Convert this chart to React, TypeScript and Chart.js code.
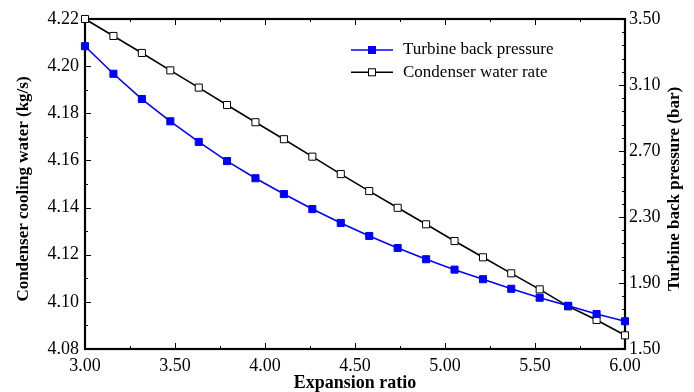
import React, { useEffect, useRef } from 'react';
import { Chart, registerables } from 'chart.js';

Chart.register(...registerables);

const SERIF = '"Liberation Serif", "Times New Roman", serif';

// Expansion ratio (x values of the data points)
const expansionRatio = [
  3.0, 3.158, 3.316, 3.474, 3.632, 3.789, 3.947, 4.105, 4.263, 4.421,
  4.579, 4.737, 4.895, 5.053, 5.211, 5.368, 5.526, 5.684, 5.842, 6.0,
];
// Turbine back pressure (bar) - right axis
const turbineBackPressure = [
  3.335, 3.168, 3.015, 2.88, 2.755, 2.639, 2.535, 2.439, 2.348, 2.264,
  2.185, 2.112, 2.044, 1.981, 1.923, 1.865, 1.811, 1.762, 1.712, 1.668,
];
// Condenser cooling water (kg/s) - left axis
const condenserWaterRate = [
  4.22, 4.2128, 4.2056, 4.1982, 4.1909, 4.1835, 4.1762, 4.169, 4.1616, 4.1542,
  4.147, 4.1399, 4.1329, 4.1258, 4.1189, 4.1121, 4.1053, 4.0981, 4.0923, 4.0858,
];

const xTicks = [3.0, 3.5, 4.0, 4.5, 5.0, 5.5, 6.0];
const leftTicks = [4.08, 4.1, 4.12, 4.14, 4.16, 4.18, 4.2, 4.22];
const rightTicks = [1.5, 1.9, 2.3, 2.7, 3.1, 3.5];
const xMinorStep = 0.25;
const leftMinorStep = 0.01;
const rightMinorStep = 0.08;

const xTitle = 'Expansion ratio';
const leftTitle = 'Condenser cooling water (kg/s)';
const rightTitle = 'Turbine back pressure (bar)';

const MAJOR_LEN = 6;
const MINOR_LEN = 3;

const frameAndTicks = {
  id: 'frameAndTicks',
  beforeDatasetsDraw(chart: any) {
    const { ctx, chartArea: a, scales } = chart;
    ctx.save();
    ctx.strokeStyle = '#000';
    ctx.lineWidth = 1;
    ctx.beginPath();
    const isMajor = (v: number, majors: number[]) =>
      majors.some((m) => Math.abs(m - v) < 1e-6);
    const each = (majors: number[], step: number, fn: (v: number, major: boolean) => void) => {
      const min = majors[0];
      const max = majors[majors.length - 1];
      const n = Math.round((max - min) / step);
      for (let i = 0; i <= n; i++) {
        const v = min + i * step;
        fn(v, isMajor(v, majors));
      }
    };
    each(xTicks, xMinorStep, (v, major) => {
      const px = Math.round(scales.x.getPixelForValue(v)) + 0.5;
      const len = major ? MAJOR_LEN : MINOR_LEN;
      ctx.moveTo(px, a.bottom);
      ctx.lineTo(px, a.bottom - len);
      ctx.moveTo(px, a.top);
      ctx.lineTo(px, a.top + len);
    });
    each(leftTicks, leftMinorStep, (v, major) => {
      const py = Math.round(scales.y.getPixelForValue(v)) + 0.5;
      const len = major ? MAJOR_LEN : MINOR_LEN;
      ctx.moveTo(a.left, py);
      ctx.lineTo(a.left + len, py);
    });
    each(rightTicks, rightMinorStep, (v, major) => {
      const py = Math.round(scales.y1.getPixelForValue(v)) + 0.5;
      const len = major ? MAJOR_LEN : MINOR_LEN;
      ctx.moveTo(a.right, py);
      ctx.lineTo(a.right - len, py);
    });
    ctx.stroke();
    ctx.lineWidth = 2.2;
    ctx.strokeRect(a.left, a.top, a.right - a.left, a.bottom - a.top);
    ctx.restore();
  },
};

const axisTitles = {
  id: 'axisTitles',
  afterDraw(chart: any) {
    const { ctx, chartArea: a } = chart;
    ctx.save();
    ctx.fillStyle = '#000';
    ctx.font = `bold 17px ${SERIF}`;
    ctx.textAlign = 'center';
    ctx.textBaseline = 'middle';
    const cy = (a.top + a.bottom) / 2 + 5;
    ctx.save();
    ctx.translate(24, cy);
    ctx.rotate(-Math.PI / 2);
    ctx.fillText(leftTitle, 0, 0);
    ctx.restore();
    ctx.save();
    ctx.translate(a.right + 50, cy);
    ctx.rotate(-Math.PI / 2);
    ctx.fillText(rightTitle, 0, 0);
    ctx.restore();
    ctx.restore();
  },
};

const insideLegend = {
  id: 'insideLegend',
  afterDraw(chart: any) {
    const { ctx, chartArea: a } = chart;
    ctx.save();
    chart.data.datasets.forEach((ds: any, i: number) => {
      const y = a.top + 31 + i * 22.3;
      const x0 = a.left + 266;
      const x1 = a.left + 308;
      const xm = (x0 + x1) / 2;
      ctx.strokeStyle = ds.borderColor;
      ctx.lineWidth = 1.6;
      ctx.beginPath();
      ctx.moveTo(x0, y);
      ctx.lineTo(x1, y);
      ctx.stroke();
      const s = 7;
      ctx.fillStyle = ds.pointBackgroundColor;
      ctx.fillRect(xm - s / 2, y - s / 2, s, s);
      ctx.strokeStyle = ds.pointBorderColor;
      ctx.lineWidth = 1;
      ctx.strokeRect(xm - s / 2, y - s / 2, s, s);
      ctx.fillStyle = '#000';
      ctx.font = `17px ${SERIF}`;
      ctx.textBaseline = 'middle';
      ctx.textAlign = 'left';
      ctx.fillText(ds.label, a.left + 318, y);
    });
    ctx.restore();
  },
};

export default function App() {
  const canvasRef = useRef<HTMLCanvasElement | null>(null);

  useEffect(() => {
    const canvas = canvasRef.current;
    if (!canvas) return;
    const tickFont = { family: SERIF, size: 18 };
    const chart = new Chart(canvas, {
      type: 'line',
      data: {
        datasets: [
          {
            label: 'Turbine back pressure',
            data: expansionRatio.map((x, i) => ({ x, y: turbineBackPressure[i] })),
            yAxisID: 'y1',
            borderColor: '#0000ff',
            backgroundColor: '#0000ff',
            pointBackgroundColor: '#0000ff',
            pointBorderColor: '#0000ff',
            borderWidth: 1.6,
            pointStyle: 'rect',
            pointRadius: 5,
            pointBorderWidth: 1,
            tension: 0,
            clip: false,
          },
          {
            label: 'Condenser water rate',
            data: expansionRatio.map((x, i) => ({ x, y: condenserWaterRate[i] })),
            yAxisID: 'y',
            borderColor: '#000000',
            backgroundColor: '#ffffff',
            pointBackgroundColor: '#ffffff',
            pointBorderColor: '#000000',
            borderWidth: 1.6,
            pointStyle: 'rect',
            pointRadius: 5,
            pointBorderWidth: 1,
            tension: 0,
            clip: false,
          },
        ],
      },
      options: {
        animation: false,
        responsive: true,
        maintainAspectRatio: false,
        layout: { padding: { top: 19, left: 0, right: 0, bottom: 0 } },
        plugins: {
          legend: { display: false },
          tooltip: { enabled: false },
        },
        scales: {
          x: {
            type: 'linear',
            position: 'bottom',
            min: 3,
            max: 6,
            afterBuildTicks: (s: any) => {
              s.ticks = xTicks.map((value) => ({ value }));
            },
            afterFit: (s: any) => {
              s.height = 43;
            },
            grid: { display: false, drawTicks: false },
            border: { display: false },
            ticks: {
              padding: 6,
              color: '#000',
              font: tickFont,
              maxRotation: 0,
              autoSkip: false,
              callback: (v: any) => Number(v).toFixed(2),
            },
            title: {
              display: true,
              text: xTitle,
              color: '#000',
              font: { family: SERIF, size: 18, weight: 'bold', lineHeight: 1 },
              padding: 0,
            },
          },
          y: {
            type: 'linear',
            position: 'left',
            min: 4.08,
            max: 4.22,
            afterBuildTicks: (s: any) => {
              s.ticks = leftTicks.map((value) => ({ value }));
            },
            afterFit: (s: any) => {
              s.width = 85;
            },
            grid: { display: false, drawTicks: false },
            border: { display: false },
            ticks: {
              padding: 6,
              color: '#000',
              font: tickFont,
              autoSkip: false,
              callback: (v: any) => Number(v).toFixed(2),
            },
            title: { display: false },
          },
          y1: {
            type: 'linear',
            position: 'right',
            min: 1.5,
            max: 3.5,
            afterBuildTicks: (s: any) => {
              s.ticks = rightTicks.map((value) => ({ value }));
            },
            afterFit: (s: any) => {
              s.width = 69;
            },
            grid: { display: false, drawTicks: false },
            border: { display: false },
            ticks: {
              padding: 4,
              color: '#000',
              font: tickFont,
              autoSkip: false,
              callback: (v: any) => Number(v).toFixed(2),
            },
            title: { display: false },
          },
        },
      },
      plugins: [frameAndTicks, insideLegend, axisTitles],
    } as any);
    return () => chart.destroy();
  }, []);

  return (
    <div style={{ position: 'fixed', left: 0, top: 0, width: 694, height: 392, background: '#fff' }}>
      <canvas ref={canvasRef} />
    </div>
  );
}
